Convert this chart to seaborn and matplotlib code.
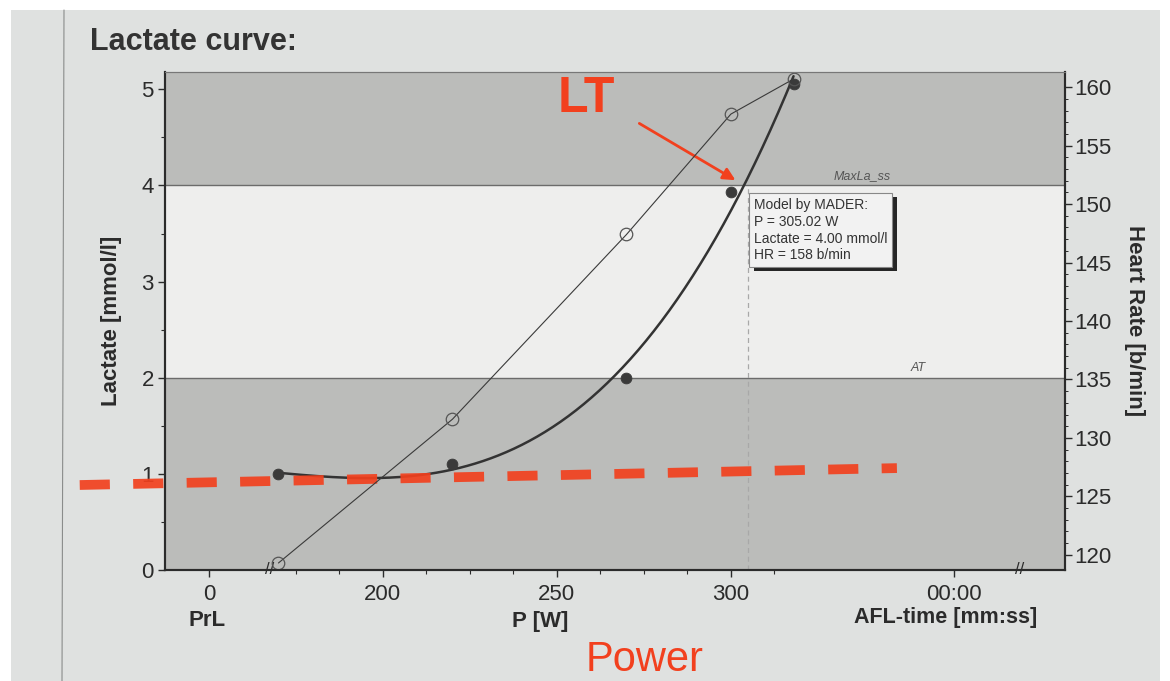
import numpy as np
import pandas as pd
import matplotlib
matplotlib.use("Agg")
import matplotlib.pyplot as plt
from matplotlib.patches import Rectangle
import seaborn as sns

# Step test results
power_w = [170, 220, 270, 300, 318]
lactate = [1.0, 1.1, 2.0, 3.93, 5.05]
heart_rate = [119.3, 131.6, 147.4, 157.7, 160.7]

# Threshold bands (mmol/l)
at_level = 2.0
maxla_level = 4.0

# Model result
lt_power = 305.02
lt_lactate = 4.00
lt_hr = 158

x_major = [150, 200, 250, 300, 364]
x_major_labels = ["0", "200", "250", "300", "00:00"]
x_minor = [175, 187.5, 212.5, 225, 237.5, 262.5, 275, 287.5, 312.5]

paper = "#dfe1e0"
band_gray = "#bbbcba"
band_white = "#eeeeed"
ink = "#2b2b2b"
red = "#f2401e"

sns.set_theme(style="white")
plt.rcParams["font.family"] = ["Liberation Sans", "DejaVu Sans"]

fig = plt.figure(figsize=(11.7, 6.81), dpi=100, facecolor="white")
fig.patches.append(Rectangle((11 / 1170, 0), 1149 / 1170, 1 - 10 / 681,
                             transform=fig.transFigure, facecolor=paper,
                             edgecolor="none", zorder=-10))
fig.lines.append(plt.Line2D([62 / 1170, 64 / 1170], [0, 1 - 10 / 681],
                            transform=fig.transFigure, color="#8a8c8b", lw=0.8))

ax = fig.add_axes([165 / 1170, 1 - 570 / 681, 900 / 1170, 498 / 681])
ax.set_facecolor(band_white)
xlim = (137.4, 396.0)
ylim = (0.0, 5.18)
ax.set_xlim(*xlim)
ax.set_ylim(*ylim)

# shaded zones below AT and above MaxLa_ss
ax.axhspan(0, at_level, color=band_gray, lw=0, zorder=0)
ax.axhspan(maxla_level, ylim[1], color=band_gray, lw=0, zorder=0)
ax.axhline(at_level, color="#6b6b6b", lw=1.0, zorder=1)
ax.axhline(maxla_level, color="#6b6b6b", lw=1.0, zorder=1)
ax.text(337.7, maxla_level + 0.04, "MaxLa_ss", fontsize=9, style="italic",
        color="#555555", ha="center", va="bottom")
ax.text(353.8, at_level + 0.04, "AT", fontsize=9, style="italic",
        color="#555555", ha="center", va="bottom")

# lactate model curve fitted to the measured points
coef = np.polyfit(power_w, lactate, 3)
p_fit = np.linspace(power_w[0], power_w[-1], 200)
fit_df = pd.DataFrame({"P": p_fit, "La": np.polyval(coef, p_fit)})
sns.lineplot(data=fit_df, x="P", y="La", ax=ax, color="#333333", lw=1.8,
             zorder=4, legend=False)

# threshold guide
ax.plot([lt_power, lt_power], [0, lt_lactate], ls=(0, (4, 3)),
        color="#a8a8a8", lw=0.9, zorder=2)

la_df = pd.DataFrame({"P": power_w, "La": lactate})
sns.scatterplot(data=la_df, x="P", y="La", ax=ax, s=60, color="#3a3a3a",
                edgecolor="#3a3a3a", zorder=5, legend=False)

# heart rate on the secondary axis
ax2 = ax.twinx()
hr_df = pd.DataFrame({"P": power_w, "HR": heart_rate})
sns.lineplot(data=hr_df, x="P", y="HR", ax=ax2, color="#3a3a3a", lw=0.8,
             marker="o", markersize=9, markerfacecolor="none",
             markeredgecolor="#555555", markeredgewidth=0.9, legend=False)
ax2.set_ylim(118.7, 161.3)
ax2.set_xlim(*xlim)

# axes styling
for a in (ax, ax2):
    for s in a.spines.values():
        s.set_visible(True)
    a.spines["top"].set_color("#777777")
    a.spines["top"].set_linewidth(0.8)
    for side in ("left", "bottom", "right"):
        a.spines[side].set_color(ink)
        a.spines[side].set_linewidth(1.5)
    a.set_xlabel("")
    a.set_ylabel("")

ax.set_yticks([0, 1, 2, 3, 4, 5])
ax.set_yticks(np.arange(0.5, 5.1, 1.0), minor=True)
ax.set_xticks(x_major)
ax.set_xticklabels(x_major_labels)
ax.set_xticks(x_minor, minor=True)
ax.tick_params(axis="both", which="major", direction="out", length=5,
               width=1, color=ink, labelsize=16, labelcolor=ink, pad=3,
               left=True, bottom=True)
ax.tick_params(axis="both", which="minor", direction="out", length=3,
               width=0.8, color=ink, left=True, bottom=True)
ax.tick_params(axis="x", which="major", pad=5)

ax2.set_yticks(np.arange(120, 161, 5))
ax2.set_yticks(np.arange(120, 161, 1), minor=True)
ax2.tick_params(axis="y", which="major", direction="out", length=5, width=1,
                color=ink, labelsize=16, labelcolor=ink, pad=2, right=True)
ax2.tick_params(axis="y", which="minor", direction="out", length=2.5,
                width=0.7, color=ink, right=True)

ax.set_ylabel("Lactate [mmol/l]", fontsize=16, fontweight="bold",
              color=ink, labelpad=14)
ax2.set_ylabel("Heart Rate [b/min]", fontsize=16, fontweight="bold",
               color=ink, rotation=270, labelpad=24)

# axis break marks
for xb in (167.5, 383.0):
    ax.text(xb, 0.0, "//", fontsize=12, color=ink, ha="center", va="center",
            clip_on=False, zorder=6)

# lower axis captions
fig.text(207 / 1170, 1 - 620 / 681, "PrL", fontsize=16, fontweight="bold",
         color=ink, ha="center", va="center")
fig.text(540 / 1170, 1 - 622 / 681, "P [W]", fontsize=16, fontweight="bold",
         color=ink, ha="center", va="center")
fig.text(946 / 1170, 1 - 618 / 681, "AFL-time [mm:ss]", fontsize=15.5,
         fontweight="bold", color=ink, ha="center", va="center")

fig.text(90 / 1170, 1 - 42 / 681, "Lactate curve:", fontsize=22,
         fontweight="bold", color="#333333", ha="left", va="center")

# model result box
info = (f"Model by MADER:\nP = {lt_power:.2f} W\n"
        f"Lactate = {lt_lactate:.2f} mmol/l\nHR = {lt_hr} b/min")
info_txt = ax.text(306.6, 3.20, info, fontsize=10, color="#333333",
                   ha="left", va="bottom", linespacing=1.25, zorder=7,
                   bbox=dict(boxstyle="square,pad=0.35", facecolor="#f2f2f2",
                             edgecolor="#888888", lw=0.8))

# lactate threshold highlight
ax.text(258.5, 4.9, "LT", fontsize=36, fontweight="bold", color=red,
        ha="center", va="center", zorder=8)
ax.annotate("", xy=(302.0, 4.04), xytext=(273.0, 4.66),
            arrowprops=dict(arrowstyle="-|>", color=red, lw=2.0,
                            mutation_scale=18), zorder=8)
ax.plot([112.9, 347.7], [0.884, 1.06], color=red, lw=7,
        ls=(0, (3.1, 2.4)), alpha=0.92, clip_on=False, zorder=8,
        solid_capstyle="butt", dash_capstyle="butt")

fig.text(645 / 1170, 1 - 660 / 681, "Power", fontsize=30, color=red,
         ha="center", va="center")

# drop shadow behind the result box, sized from its rendered frame
fig.canvas.draw()
frame = info_txt.get_bbox_patch().get_window_extent()
fw, fh = fig.bbox.width, fig.bbox.height
dx, dy = 5, 4
ax.add_patch(Rectangle(((frame.x0 + dx) / fw, (frame.y0 - dy) / fh),
                       frame.width / fw, frame.height / fh,
                       transform=fig.transFigure, facecolor="#262626",
                       edgecolor="none", zorder=6, clip_on=False))

fig.savefig("out.png", dpi=100, facecolor=fig.get_facecolor())
